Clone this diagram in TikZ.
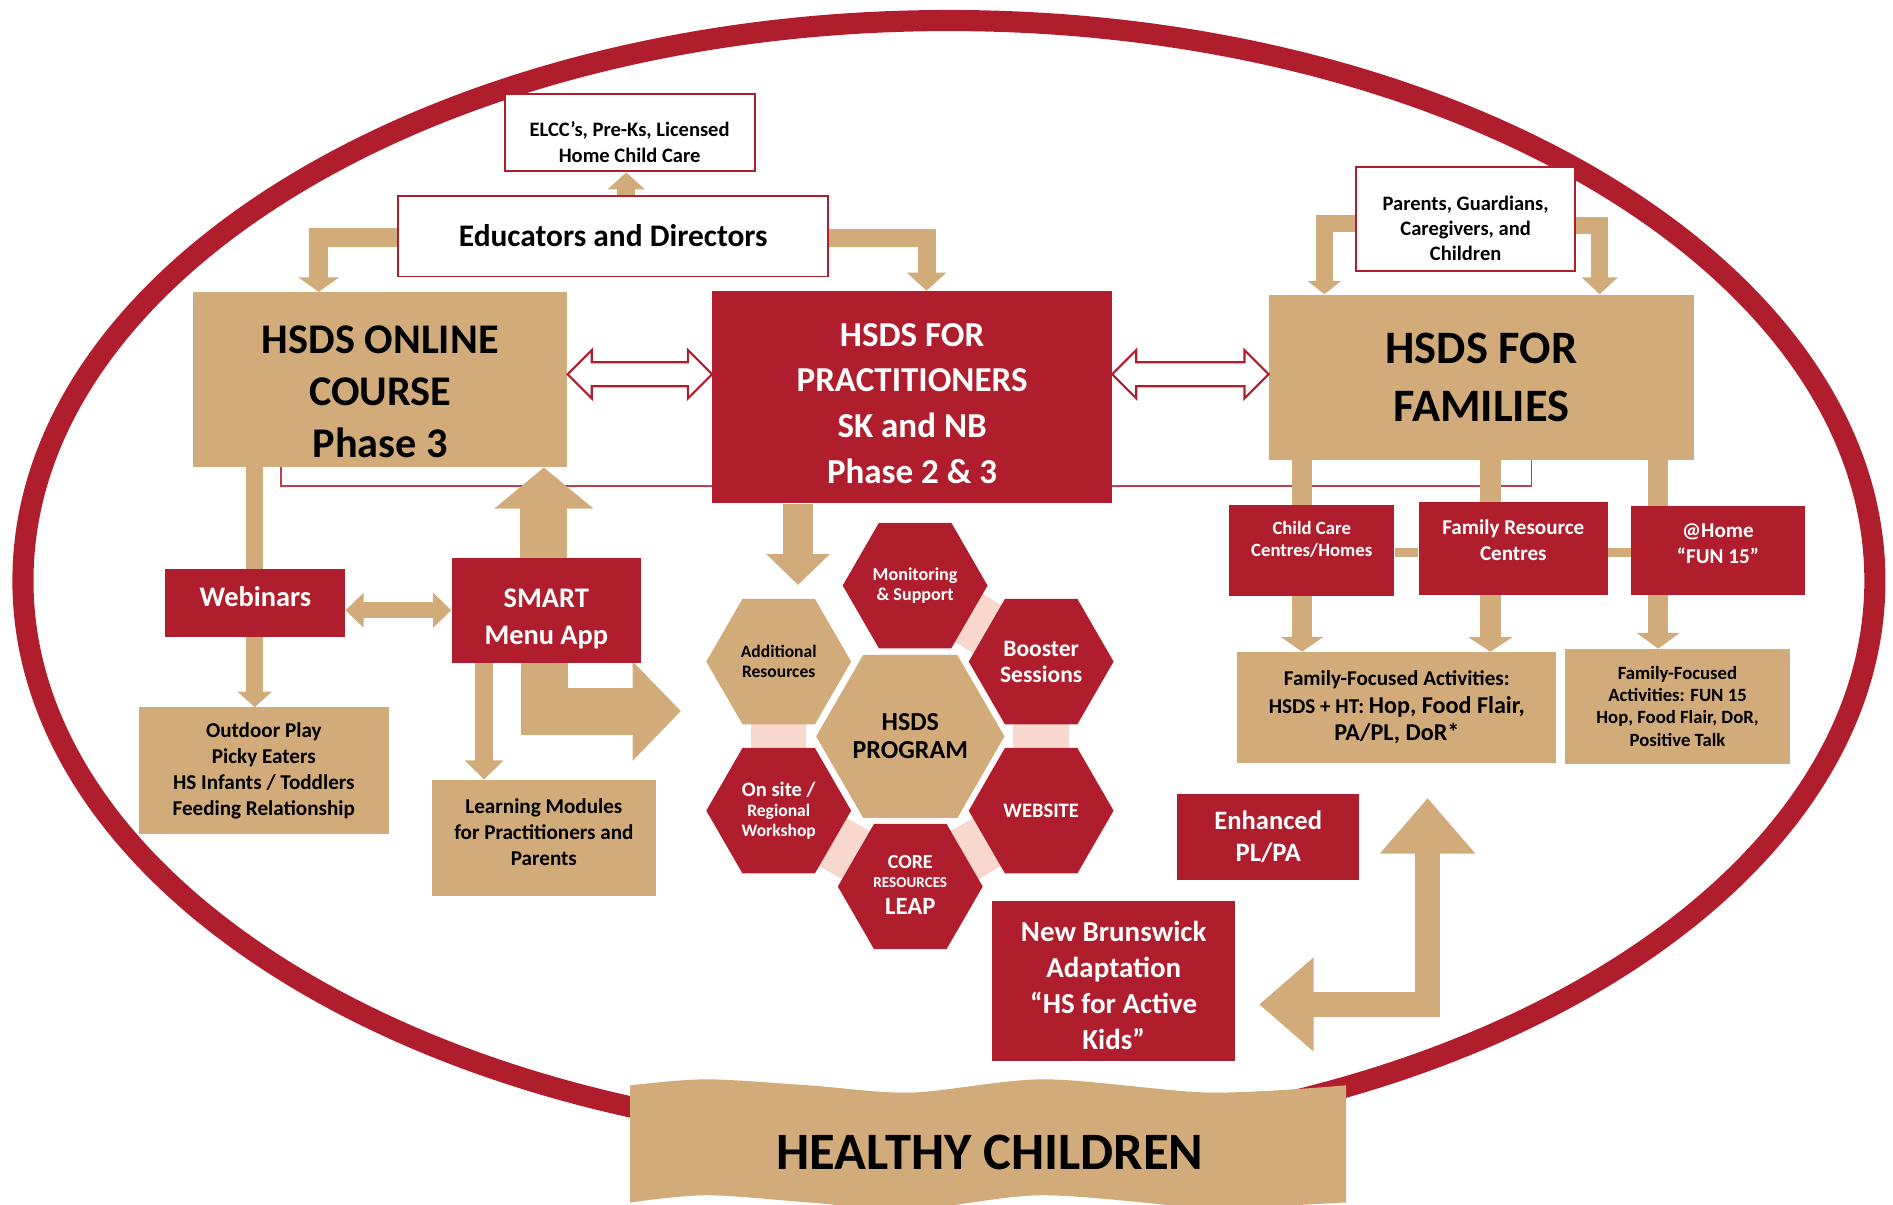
\documentclass[tikz,border=0pt]{standalone}
\usepackage{fontspec}
\setmainfont{Carlito}
\usetikzlibrary{shapes.geometric,arrows.meta,calc}
\definecolor{hsred}{RGB}{176,30,46}
\definecolor{hstan}{RGB}{210,171,122}
\definecolor{hspink}{RGB}{248,216,204}
\newcommand{\fsz}[2]{\fontsize{#1}{#2}\selectfont}
\newcommand{\mlt}[2]{\raisebox{#1}[\height][\depth]{\begin{tabular}{@{}c@{}}#2\end{tabular}}}
\pgfdeclarelayer{bg}
\pgfdeclarelayer{mid}
\pgfsetlayers{bg,mid,main}
\tikzset{
  box/.style={rectangle, inner sep=2pt, align=center},
  redbox/.style={box, fill=hsred, text=white},
  tanbox/.style={box, fill=hstan, text=black},
  whitebox/.style={box, fill=white, draw=hsred, line width=1.6pt, text=black},
  hexbase/.style={regular polygon, regular polygon sides=6, inner sep=0pt, align=center},
  hexred/.style={hexbase, fill=hsred, text=white},
  hextan/.style={hexbase, fill=hstan, text=black},
  tanarr/.style={draw=hstan, line join=miter},
  pinkband/.style={draw=hspink, line width=46pt},
  redline/.style={draw=hsred!85, line width=1.4pt},
  dblout/.style={draw=hsred, fill=white, line width=1.8pt, line join=miter},
}
\newcommand{\hsdbl}[2]{%
  \draw[dblout] (#1) -- ++(20,-20) -- ++(0,10) -- ($(#2)+(-20,-10)$) -- ++(0,-10)
    -- (#2) -- ++(-20,20) -- ++(0,-10) -- ($(#1)+(20,10)$) -- ++(0,10) -- cycle;}
\begin{document}
\begin{tikzpicture}[x=1pt,y=-1pt,font=\bfseries]
\useasboundingbox (0,0) rectangle (1568,998);

% ---------- boxes ----------
\node[whitebox, minimum width=207, minimum height=64, font=\bfseries\fsz{17}{21.4}] (elcc) at (521.5,110) {\mlt{-9.5pt}{ELCC’s, Pre-Ks, Licensed\\Home Child Care}};
\node[whitebox, minimum width=356, minimum height=67, font=\bfseries\fsz{26}{30}] (edu) at (508,195.5) {Educators and Directors};
\node[tanbox, minimum width=310, minimum height=145, font=\bfseries\fsz{35}{43}] (online) at (315,314.5) {\mlt{-13pt}{HSDS ONLINE\\COURSE\\Phase 3}};
\node[redbox, minimum width=331, minimum height=176, font=\bfseries\fsz{29}{37.7}] (pract) at (755.5,329) {\mlt{-7pt}{HSDS FOR\\PRACTITIONERS\\SK and NB\\Phase 2 \& 3}};
\node[tanbox, minimum width=352, minimum height=137, font=\bfseries\fsz{38.5}{47.8}] (fam) at (1227,312.5) {HSDS FOR\\FAMILIES};
\node[whitebox, minimum width=181, minimum height=86, font=\bfseries\fsz{17}{20.7}] (parents) at (1214,181.4) {\mlt{-9.5pt}{Parents, Guardians,\\Caregivers, and\\Children}};
\node[redbox, minimum width=137, minimum height=76, font=\bfseries\fsz{15.5}{18.2}] (cc) at (1086.5,456) {\mlt{8pt}{Child Care\\Centres/Homes}};
\node[redbox, minimum width=157, minimum height=77, font=\bfseries\fsz{17.5}{21.5}] (frc) at (1253.5,454.5) {\mlt{5pt}{Family Resource\\Centres}};
\node[redbox, minimum width=144, minimum height=74, font=\bfseries\fsz{17.5}{21.5}] (home) at (1423,456) {\mlt{4pt}{@Home\\“FUN 15”}};
\node[tanbox, minimum width=264, minimum height=92, font=\bfseries\fsz{17.5}{22.8}] (ffa) at (1157,586) {Family-Focused Activities:\\HSDS + HT: {\fsz{20}{22.8}Hop, Food Flair,}\\{\fsz{20}{22.8}PA/PL, DoR*}};
\node[tanbox, minimum width=186, minimum height=95, font=\bfseries\fsz{15.5}{18.6}] (ffb) at (1389.5,585) {Family-Focused\\Activities: FUN 15\\Hop, Food Flair, DoR,\\Positive Talk};
\node[redbox, minimum width=149, minimum height=57, font=\bfseries\fsz{23.5}{28}] (webinars) at (211.5,499.5) {\mlt{3pt}{Webinars}};
\node[redbox, minimum width=157, minimum height=87, font=\bfseries\fsz{23.5}{30}] (smart) at (452.5,505.5) {\mlt{-7pt}{SMART\\Menu App}};
\node[tanbox, minimum width=207, minimum height=105, font=\bfseries\fsz{17.5}{21.5}] (outdoor) at (218.5,638.5) {Outdoor Play\\Picky Eaters\\HS Infants / Toddlers\\Feeding Relationship};
\node[tanbox, minimum width=185, minimum height=96, font=\bfseries\fsz{17.5}{21.5}] (learn) at (450.5,694) {\mlt{3pt}{Learning Modules\\for Practitioners and\\Parents}};
\node[redbox, minimum width=151, minimum height=71, font=\bfseries\fsz{22}{26.5}] (enh) at (1050.5,693.5) {Enhanced\\PL/PA};
\node[redbox, minimum width=201, minimum height=133, font=\bfseries\fsz{24}{29.7}] (nb) at (922.5,812.5) {\mlt{-6pt}{New Brunswick\\Adaptation\\“HS for Active\\Kids”}};

% ---------- hexagons ----------
\node[hexred, minimum size=120, font=\bfseries\fsz{15}{16.6}] (mon) at (758,485) {Monitoring\\\& Support};
\node[hextan, minimum size=120, font=\bfseries\fsz{14.5}{16.6}] (addl) at (645,548) {Additional\\Resources};
\node[hexred, minimum size=120, font=\bfseries\fsz{19.5}{21.5}] (boost) at (862.4,548) {Booster\\Sessions};
\node[hextan, minimum size=146.5, font=\bfseries\fsz{21.5}{23}] (prog) at (754,610) {HSDS\\PROGRAM};
\node[hexred, minimum size=120, font=\bfseries\fsz{14.5}{16.6}] (onsite) at (645,671.5) {{\fsz{17}{17}On site /}\\Regional\\Workshop};
\node[hexred, minimum size=120, font=\bfseries\fsz{17}{20}] (webhex) at (862.4,671.5) {WEBSITE};
\node[hexred, minimum size=120, font=\bfseries\fsz{16.5}{16}] (core) at (754,734.3) {\mlt{-1pt}{CORE\\[0pt]{\fsz{12.5}{15}RESOURCES}\\[4pt]{\fsz{20.5}{21}LEAP}}};

% free ends
\coordinate (ptip) at (661,484.5);
\coordinate (ltip) at (564,589);
\coordinate (uptip) at (1182.5,661);
\coordinate (nbtip) at (1043,832);

% ---------- background: ellipse, thin line, pink bands ----------
\begin{pgfonlayer}{bg}
\draw[hsred, line width=17.5pt] (786,481) ellipse [x radius=767, y radius=464];
\draw[redline] ([xshift=-82pt]online.south) -- ++(0,15.5) -| ([xshift=41.5pt]fam.south);
\draw[pinkband] (mon.center) -- (boost.center);
\draw[pinkband] (addl.center) -- (onsite.center);
\draw[pinkband] (boost.center) -- (webhex.center);
\draw[pinkband] (onsite.center) -- (core.center);
\draw[pinkband] (webhex.center) -- (core.center);
\end{pgfonlayer}

% ---------- tan arrows ----------
\begin{pgfonlayer}{mid}
\draw[tanarr, line width=14.6pt, -{Triangle[width=30pt,length=14pt]}] ([xshift=10.7pt]edu.north) -- ([xshift=10.7pt]edu.north |- elcc.south);
\draw[tanarr, line width=15.5pt, -{Triangle[width=33pt,length=12pt]}] ([yshift=-1.5pt]edu.west) -| ([xshift=-51pt]online.north);
\draw[tanarr, line width=15pt, -{Triangle[width=32pt,length=15pt]}] ([yshift=-2pt]edu.east) -| ([xshift=12pt]pract.north);
\draw[tanarr, line width=14pt, -{Triangle[width=27pt,length=11pt]}] ([yshift=-4pt]parents.west) -| ([xshift=-130pt]fam.north);
\draw[tanarr, line width=14pt, -{Triangle[width=29pt,length=14pt]}] ([yshift=-5.5pt]parents.east) -| ([xshift=98pt]fam.north);
% families down
\draw[tanarr, line width=16pt, -{Triangle[width=34pt,length=12pt]}] ([xshift=-148.5pt]fam.south) -- ([xshift=-148.5pt]fam.south |- ffa.north);
\draw[tanarr, line width=18pt, -{Triangle[width=36pt,length=12pt]}] ([xshift=7.5pt]fam.south) -- ([xshift=7.5pt]fam.south |- ffa.north);
\draw[tanarr, line width=17pt, -{Triangle[width=35pt,length=13pt]}] ([xshift=146.5pt]fam.south) -- ([xshift=146.5pt]fam.south |- ffb.north);
\draw[tanarr, line width=7.5pt] ([yshift=-1.5pt]cc.east) -- ([yshift=-1.5pt]cc.east -| frc.west);
\draw[tanarr, line width=7.5pt] ([yshift=-1.5pt]cc.east -| frc.east) -- ([yshift=-1.5pt]cc.east -| home.west);
% left side
\draw[tanarr, line width=14pt, -{Triangle[width=28pt,length=13pt]}] ([xshift=-104pt]online.south) -- ([xshift=-104pt]online.south |- outdoor.north);
\draw[tanarr, line width=13pt, {Triangle[width=28pt,length=15pt]}-{Triangle[width=28pt,length=15pt]}] (webinars.east |- smart.west) -- (smart.west);
\draw[tanarr, line width=39pt, -{Triangle[width=80pt,length=34pt]}] ([xshift=-2pt]smart.north) -- ([xshift=-2pt]smart.north |- online.south);
\draw[tanarr, line width=15.5pt, -{Triangle[width=31pt,length=16pt]}] ([xshift=-51.5pt]smart.south) -- ([xshift=-51.5pt]smart.south |- learn.north);
\draw[tanarr, line width=39pt, -{Triangle[width=80pt,length=40pt]}] ([xshift=-1.5pt]smart.south) |- (ltip);
\draw[tanarr, line width=25pt, -{Triangle[width=51pt,length=25.5pt]}] ([xshift=-94.5pt]pract.south) -- (ptip);
% bottom right L arrow
\draw[tanarr, line width=21pt, {Triangle[width=75pt,length=45pt]}-{Triangle[width=76pt,length=46pt]}] (nbtip) -| (uptip);
\end{pgfonlayer}

% ---------- red outlined double arrows ----------
\coordinate (dA) at ([yshift=4.5pt]online.east);
\coordinate (dB) at (dA -| pract.west);
\coordinate (dC) at (dA -| pract.east);
\coordinate (dD) at (dA -| fam.west);
\hsdbl{dA}{dB}
\hsdbl{dC}{dD}

% ---------- banner ----------
\fill[hstan] plot[smooth] coordinates {(522,899) (585,894) (670,899) (755,905) (865,894) (1002,905) (1115,899)}
  -- (1115,996) -- plot[smooth] coordinates {(1002,1002) (865,990) (755,1002) (670,996) (585,990) (522,996)} -- cycle;
\node[font=\bfseries\fsz{43.5}{43.5}] (hc) at (820,955) {HEALTHY CHILDREN};
\end{tikzpicture}
\end{document}
